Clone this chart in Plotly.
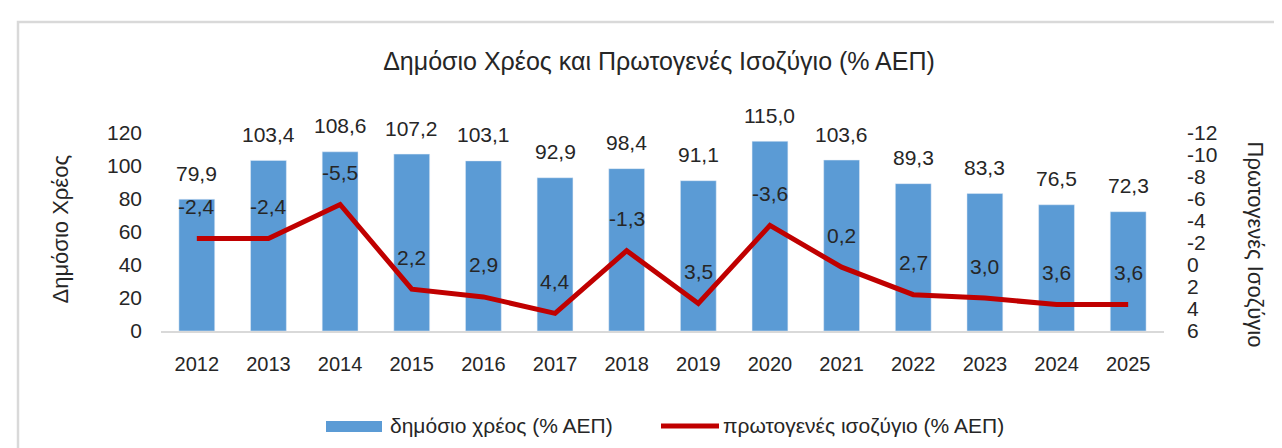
import plotly.graph_objects as go

years = ["2012", "2013", "2014", "2015", "2016", "2017", "2018", "2019", "2020", "2021", "2022", "2023", "2024", "2025"]
debt = [79.9, 103.4, 108.6, 107.2, 103.1, 92.9, 98.4, 91.1, 115.0, 103.6, 89.3, 83.3, 76.5, 72.3]
balance = [-2.4, -2.4, -5.5, 2.2, 2.9, 4.4, -1.3, 3.5, -3.6, 0.2, 2.7, 3.0, 3.6, 3.6]
left_ticks = [0, 20, 40, 60, 80, 100, 120]
right_ticks = [-12, -10, -8, -6, -4, -2, 0, 2, 4, 6]
debt_name = "δημόσιο χρέος (% ΑΕΠ)"
bal_name = "πρωτογενές ισοζύγιο (% ΑΕΠ)"

W, H = 1282, 448
ML, MR, MT, MB = 153, 126, 125, 125
PW, PH = W - ML - MR, H - MT - MB
FONT = "Liberation Sans, Arial, sans-serif"
TXT = "#262626"
BLUE = "#5B9BD5"
RED = "#C00000"


def px_x(px):
    return (px - ML) / PW


def px_y(py):
    return (H - MB - py) / PH


def fmt(v):
    return f"{v:.1f}".replace(".", ",")


fig = go.Figure()
fig.add_trace(go.Bar(
    x=years, y=debt, name=debt_name, showlegend=False,
    marker=dict(color=BLUE), yaxis="y",
))
fig.add_trace(go.Scatter(
    x=years, y=balance, name=bal_name, showlegend=False,
    mode="lines", line=dict(color=RED, width=5), yaxis="y2",
))

ann = []
for i, v in enumerate(debt):
    ann.append(dict(x=i, y=v, xref="x", yref="y", text=fmt(v), showarrow=False,
                    yanchor="middle", yshift=26, font=dict(size=21, color=TXT, family=FONT)))
for i, v in enumerate(balance):
    ann.append(dict(x=i, y=v, xref="x", yref="y2", text=fmt(v), showarrow=False,
                    yanchor="middle", yshift=32, font=dict(size=21, color=TXT, family=FONT)))
# axis titles
ann.append(dict(text="Δημόσιο Χρέος", xref="paper", yref="paper",
                x=px_x(37), y=px_y(221), showarrow=False, textangle=-90,
                font=dict(size=22, color=TXT, family=FONT)))
ann.append(dict(text="Πρωτογενές Ισοζύγιο", xref="paper", yref="paper",
                x=px_x(1262), y=px_y(236), showarrow=False, textangle=90,
                font=dict(size=22, color=TXT, family=FONT)))
# legend texts
ann.append(dict(text=debt_name, xref="paper", yref="paper", x=px_x(380), y=px_y(417),
                xanchor="left", yanchor="middle", showarrow=False,
                font=dict(size=21, color=TXT, family=FONT)))
ann.append(dict(text=bal_name, xref="paper", yref="paper", x=px_x(713), y=px_y(417),
                xanchor="left", yanchor="middle", showarrow=False,
                font=dict(size=21, color=TXT, family=FONT)))

shapes = [
    dict(type="rect", xref="paper", yref="paper",
         x0=px_x(10), x1=px_x(1300), y0=px_y(470), y1=px_y(14),
         line=dict(color="#D9D9D9", width=2.5), fillcolor="rgba(0,0,0,0)", layer="below"),
    dict(type="rect", xref="paper", yref="paper",
         x0=px_x(318), x1=px_x(374), y0=px_y(424), y1=px_y(413),
         line=dict(width=0), fillcolor=BLUE),
    dict(type="line", xref="paper", yref="paper",
         x0=px_x(653), x1=px_x(711), y0=px_y(418), y1=px_y(418),
         line=dict(color=RED, width=5)),
]

fig.update_layout(
    width=W, height=H,
    margin=dict(l=ML, r=MR, t=MT, b=MB),
    paper_bgcolor="white", plot_bgcolor="white",
    font=dict(family=FONT, size=20, color=TXT),
    title=dict(text="Δημόσιο Χρέος και Πρωτογενές Ισοζύγιο (% ΑΕΠ)",
               x=651 / W, xref="container", xanchor="center",
               y=1 - 53 / H, yref="container", yanchor="middle",
               font=dict(size=25, color=TXT, family=FONT)),
    bargap=0.5,
    showlegend=False,
    xaxis=dict(type="category", range=[-0.5, len(years) - 0.5],
               showline=True, linecolor="#D9D9D9", linewidth=2,
               showgrid=False, ticks="", ticklabelstandoff=14, zeroline=False,
               tickfont=dict(size=20)),
    yaxis=dict(range=[0, 120], tickvals=left_ticks, ticktext=[str(t) for t in left_ticks],
               showgrid=False, zeroline=False, showline=False, ticks="",
               ticklabelstandoff=18, tickfont=dict(size=21)),
    yaxis2=dict(range=[6, -12], overlaying="y", side="right",
                tickvals=right_ticks, ticktext=[str(t) for t in right_ticks],
                showgrid=False, zeroline=False, showline=False, ticks="",
                ticklabelstandoff=22, tickfont=dict(size=21)),
    annotations=ann,
    shapes=shapes,
)

fig.write_html("out.html")
